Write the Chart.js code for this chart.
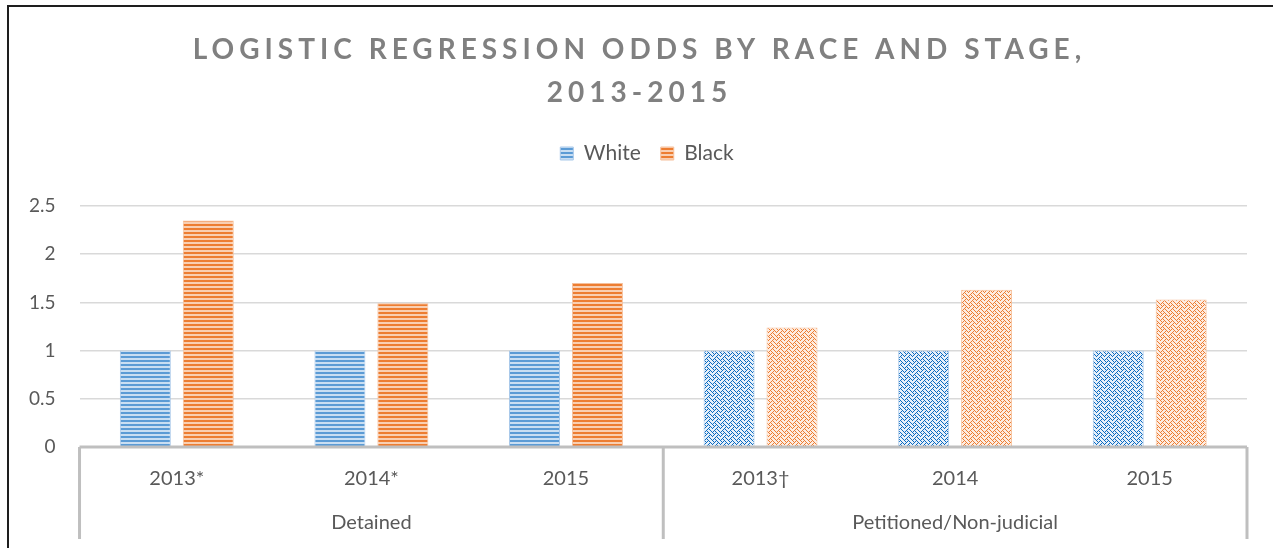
<!DOCTYPE html>
<html>
<head>
<meta charset="utf-8">
<script src="https://cdn.jsdelivr.net/npm/chart.js@4.4.1/dist/chart.umd.min.js"></script>
<style>
    html, body { margin: 0; padding: 0; background: #fff; overflow: hidden; }
    #wrap { position: relative; width: 1273px; height: 548px; }
    #frame {
        position: absolute; left: 7px; top: 5px; width: 1300px; height: 600px;
        border: 2px solid #1e1e1e; box-sizing: border-box; pointer-events: none;
    }
</style>
</head>
<body>
<div id="wrap">
    <canvas id="chart" width="1273" height="548"></canvas>
    <div id="frame"></div>
</div>
<script>
const titleLines = ['LOGISTIC REGRESSION ODDS BY RACE AND STAGE,', '2013-2015'];
const categories = ['2013*', '2014*', '2015', '2013\u2020', '2014', '2015'];
const groups = ['Detained', 'Petitioned/Non-judicial'];
const groupSizes = [3, 3];
const whiteValues = [1, 1, 1, 1, 1, 1];
const blackValues = [2.35, 1.49, 1.70, 1.24, 1.63, 1.53];
const yTicks = [0, 0.5, 1, 1.5, 2, 2.5];

const TEXT = '#595959';
const GRID = '#d9d9d9';
const AXIS = '#bfbfbf';
const FONT = 'Lato, "Open Sans", sans-serif';

function stripePattern(dark, light) {
    const c = document.createElement('canvas');
    c.width = 4;
    c.height = 4;
    const g = c.getContext('2d');
    g.fillStyle = light;
    g.fillRect(0, 0, 4, 4);
    g.fillStyle = dark;
    g.fillRect(0, 0, 4, 2);
    return g.createPattern(c, 'repeat');
}

// 8x8 weave bitmap, one byte per row
const weaveRows = [0x88, 0x54, 0x22, 0x45, 0x88, 0x14, 0x22, 0x51];

function weavePattern(dark, light) {
    const c = document.createElement('canvas');
    c.width = 8;
    c.height = 8;
    const g = c.getContext('2d');
    g.fillStyle = light;
    g.fillRect(0, 0, 8, 8);
    g.fillStyle = dark;
    weaveRows.forEach((bits, y) => {
        for (let x = 0; x < 8; x++) {
            if (bits & (0x80 >> x)) g.fillRect(x, y, 1, 1);
        }
    });
    return g.createPattern(c, 'repeat');
}

const blueStripe = stripePattern('#5b9bd5', '#c9def2');
const orangeStripe = stripePattern('#ed7d31', '#f9cfb2');
const blueWeave = weavePattern('#0a6ac0', '#e6f0fa');
const orangeWeave = weavePattern('#ed7d31', '#fdece1');

function fillsFor(stripe, weave) {
    const out = [];
    groupSizes.forEach((n, gi) => {
        for (let i = 0; i < n; i++) out.push(gi === 0 ? stripe : weave);
    });
    return out;
}

// extra room under the legend, and nudge it to the frame's centre
const legendTweak = {
    id: 'legendTweak',
    beforeInit(chart) {
        const legend = chart.legend;
        const origFit = legend.fit;
        const origDraw = legend.draw;
        legend.fit = function () {
            origFit.call(legend);
            this.height += 32;
        };
        legend.draw = function () {
            const ctx = chart.ctx;
            ctx.save();
            ctx.translate(21, 0);
            origDraw.call(legend);
            ctx.restore();
        };
    },
};

const decorations = {
    id: 'decorations',
    afterDraw(chart) {
        const { ctx, chartArea } = chart;
        const x = chart.scales.x;
        const bottom = chartArea.bottom;
        ctx.save();

        // title
        ctx.fillStyle = '#808080';
        ctx.font = 'bold 28px ' + FONT;
        ctx.textAlign = 'center';
        ctx.textBaseline = 'middle';
        ctx.letterSpacing = '5px';
        titleLines.forEach((line, i) => {
            ctx.fillText(line, chart.width / 2 + 3, 50 + i * 43);
        });
        ctx.letterSpacing = '0px';

        // axis line and group dividers
        ctx.strokeStyle = AXIS;
        ctx.lineWidth = 3;
        ctx.beginPath();
        ctx.moveTo(chartArea.left, bottom);
        ctx.lineTo(chartArea.right, bottom);
        ctx.stroke();

        const half = (x.getPixelForValue(1) - x.getPixelForValue(0)) / 2;
        let start = 0;
        const edges = [x.getPixelForValue(0) - half];
        const centers = [];
        groupSizes.forEach(n => {
            const l = x.getPixelForValue(start) - half;
            const r = x.getPixelForValue(start + n - 1) + half;
            edges.push(r);
            centers.push((l + r) / 2);
            start += n;
        });
        ctx.beginPath();
        edges.forEach(px => {
            ctx.moveTo(px, bottom);
            ctx.lineTo(px, bottom + 92);
        });
        ctx.stroke();

        ctx.fillStyle = TEXT;
        ctx.font = '20px ' + FONT;
        groups.forEach((name, i) => {
            ctx.fillText(name, centers[i], bottom + 76);
        });
        ctx.restore();
    },
};

new Chart(document.getElementById('chart'), {
    type: 'bar',
    data: {
        labels: categories,
        datasets: [
            {
                label: 'White',
                data: whiteValues,
                backgroundColor: fillsFor(blueStripe, blueWeave),
                borderColor: '#a9c9ea',
                borderWidth: 1,
            },
            {
                label: 'Black',
                data: blackValues,
                backgroundColor: fillsFor(orangeStripe, orangeWeave),
                borderColor: '#f6c09b',
                borderWidth: 1,
            },
        ],
    },
    options: {
        responsive: false,
        animation: false,
        layout: {
            padding: { top: 123, left: 5, right: 26, bottom: 45 },
        },
        categoryPercentage: 0.647,
        barPercentage: 0.81,
        plugins: {
            title: { display: false },
            tooltip: { enabled: false },
            legend: {
                position: 'top',
                labels: {
                    color: TEXT,
                    font: { family: FONT, size: 21 },
                    boxWidth: 13,
                    boxHeight: 13,
                    padding: 20,
                },
            },
        },
        scales: {
            x: {
                grid: { display: false },
                border: { display: false },
                ticks: {
                    color: TEXT,
                    font: { family: FONT, size: 20 },
                    padding: 12,
                },
            },
            y: {
                min: 0,
                max: 2.5,
                afterBuildTicks(scale) {
                    scale.ticks = yTicks.map(v => ({ value: v }));
                },
                grid: { color: GRID, lineWidth: 1.5, drawTicks: false },
                border: { display: false },
                ticks: {
                    color: TEXT,
                    font: { family: FONT, size: 19 },
                    padding: 24,
                    callback: v => String(v),
                },
            },
        },
    },
    plugins: [legendTweak, decorations],
});
</script>
</body>
</html>
